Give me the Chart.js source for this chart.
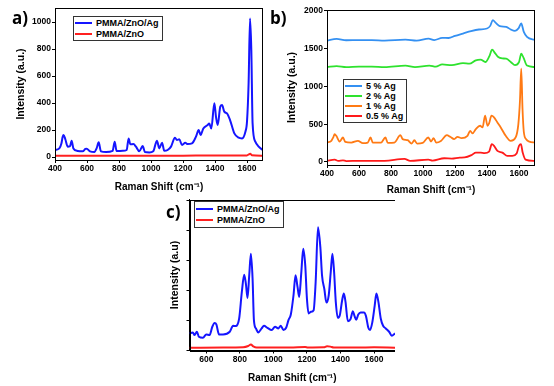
<!DOCTYPE html>
<html lang="en">
<head>
<meta charset="UTF-8">
<title>Raman spectra</title>
<script src="https://cdn.jsdelivr.net/npm/chart.js"></script>
<style>
    body { margin: 0; background: #fff; font-family: 'Liberation Sans', Arial, sans-serif; }
    #fig { position: relative; width: 554px; height: 386px; overflow: hidden; }
    canvas { position: absolute; }
    .tag { position: absolute; font-family: 'Open Sans', sans-serif; font-weight: bold; font-size: 17px; line-height: 17px; }
    .legend { position: absolute; border: 1px solid #333; background: #fff; font-weight: bold; font-size: 9px; padding: 1px 3px 1px 1px; }
    .legend div { display: flex; align-items: center; white-space: nowrap; }
    .legend .ln { display: inline-block; width: 17px; height: 2px; margin-right: 4px; }
</style>
</head>
<body>
<div id="fig">
    <canvas id="chartA" width="263" height="193" style="left:0;top:0"></canvas>
    <canvas id="chartB" width="265" height="196" style="left:270px;top:0"></canvas>
    <canvas id="chartC" width="245" height="189" style="left:150px;top:195px"></canvas>
    <div class="tag" style="left:12px;top:9px">a)</div>
    <div class="tag" style="left:270px;top:9px">b)</div>
    <div class="tag" style="left:166px;top:203px">c)</div>
    <div class="legend" id="legA" style="left:73px;top:16px"></div>
    <div class="legend" id="legB" style="left:343px;top:79px"></div>
    <div class="legend" id="legC" style="left:194px;top:201px"></div>
</div>
<script>
    // tick values
    const xTicksAB = [400, 600, 800, 1000, 1200, 1400, 1600];
    const xTicksC = [600, 800, 1000, 1200, 1400, 1600];
    const yTicksA = [0, 200, 400, 600, 800, 1000];
    const yTicksB = [0, 500, 1000, 1500, 2000];
    const yTicksC = [0, 1000, 2000, 3000, 4000, 5000];

    // a) PMMA/ZnO/Ag vs PMMA/ZnO
    const shiftA = [400, 427, 440, 448, 454, 465, 479, 494, 504, 515, 542, 573, 590, 598, 619, 646, 660, 673, 687, 719,
        760, 773, 785, 823, 848, 860, 871, 890, 906, 927, 948, 962, 990, 1014, 1037, 1052, 1069, 1083, 1104, 1125,
        1150, 1162, 1177, 1194, 1214, 1229, 1256, 1281, 1298, 1310, 1327, 1354, 1364, 1377, 1396, 1406, 1417, 1433,
        1444, 1458, 1475, 1494, 1521, 1548, 1569, 1590, 1600, 1610, 1619, 1627, 1635, 1652, 1673, 1700];
    const agA = [52, 64, 100, 150, 163, 130, 77, 80, 121, 64, 45, 42, 60, 62, 42, 37, 64, 109, 42, 37,
        45, 114, 45, 46, 52, 138, 94, 96, 77, 42, 81, 37, 34, 42, 121, 64, 106, 46, 52, 77,
        143, 126, 131, 89, 106, 96, 101, 151, 200, 163, 212, 237, 249, 212, 398, 300, 237, 373,
        385, 336, 323, 274, 175, 143, 138, 188, 262, 546, 1027, 793, 249, 114, 77, 50];
    const shiftA0 = [400, 600, 800, 1000, 1200, 1400, 1600, 1612, 1620, 1630, 1700];
    const znoA = [10, 9, 10, 9, 10, 12, 12, 20, 24, 14, 10];

    // b) Ag loading series
    const shift5 = [400, 460, 520, 600, 680, 760, 890, 960, 1035, 1070, 1120, 1160, 1200, 1250, 1300, 1350, 1400,
        1420, 1436, 1455, 1480, 1520, 1550, 1575, 1598, 1614, 1630, 1650, 1700];
    const ag5 = [1605, 1628, 1610, 1612, 1612, 1605, 1618, 1605, 1632, 1612, 1641, 1640, 1668, 1699, 1730, 1752, 1765,
        1800, 1876, 1840, 1796, 1787, 1750, 1734, 1770, 1832, 1720, 1654, 1610];
    const shift2 = [400, 460, 520, 600, 680, 760, 890, 950, 1040, 1080, 1120, 1180, 1250, 1290, 1330, 1360, 1390,
        1415, 1432, 1450, 1470, 1495, 1520, 1550, 1575, 1600, 1614, 1628, 1650, 1700];
    const ag2 = [1255, 1268, 1255, 1262, 1262, 1255, 1275, 1255, 1275, 1260, 1290, 1280, 1308, 1300, 1345, 1353, 1322,
        1400, 1486, 1440, 1388, 1370, 1366, 1320, 1280, 1320, 1432, 1380, 1275, 1255];
    const shift1 = [400, 427, 440, 448, 458, 479, 500, 514, 552, 593, 624, 655, 672, 686, 738, 765, 780, 821, 859, 873,
        904, 929, 946, 963, 998, 1033, 1050, 1066, 1083, 1112, 1149, 1170, 1195, 1216, 1241, 1278, 1295, 1309, 1330,
        1357, 1372, 1388, 1403, 1413, 1428, 1444, 1465, 1486, 1517, 1548, 1579, 1596, 1606, 1614, 1622, 1630, 1645,
        1665, 1700];
    const ag1 = [257, 279, 330, 368, 346, 271, 324, 266, 257, 279, 248, 257, 324, 257, 257, 324, 253, 257, 355, 302,
        288, 244, 288, 244, 253, 324, 271, 315, 257, 279, 355, 333, 302, 333, 315, 346, 412, 377, 435,
        479, 457, 612, 479, 510, 612, 590, 523, 457, 346, 279, 324, 501, 811, 1235, 700, 400, 300,
        270, 258];
    const shift05 = [400, 448, 470, 500, 520, 600, 680, 760, 884, 920, 1033, 1060, 1133, 1180, 1230, 1260, 1305, 1330,
        1360, 1385, 1413, 1430, 1444, 1465, 1496, 1527, 1558, 1585, 1600, 1612, 1623, 1641, 1700];
    const ag05 = [13, 31, 15, 22, 12, 15, 14, 15, 40, 15, 31, 18, 49, 45, 58, 60, 93, 124,
        124, 118, 137, 235, 213, 146, 124, 80, 80, 111, 213, 235, 124, 31, 13];

    // c) PMMA/ZnO/Ag vs PMMA/ZnO (arbitrary units)
    const shiftC = [500, 520, 530, 544, 556, 580, 600, 620, 636, 650, 660, 676, 700, 740, 760, 776, 796, 812, 826, 836,
        846, 856, 866, 876, 884, 896, 910, 930, 944, 964, 990, 1010, 1030, 1044, 1060, 1076, 1090, 1104, 1120, 1132,
        1144, 1154, 1166, 1178, 1190, 1200, 1210, 1224, 1240, 1252, 1266, 1280, 1290, 1304, 1316, 1330, 1342, 1352,
        1362, 1372, 1384, 1396, 1410, 1420, 1430, 1444, 1460, 1474, 1484, 1494, 1506, 1520, 1540, 1552, 1566, 1576,
        1590, 1604, 1614, 1626, 1640, 1654, 1670, 1690, 1706, 1725];
    const agC = [572, 605, 516, 627, 460, 427, 538, 516, 794, 916, 871, 538, 538, 627, 827, 816, 1071, 1959, 2536, 2237,
        1759, 2514, 3236, 2403, 1016, 738, 605, 738, 827, 760, 683, 794, 738, 827, 683, 760, 1016, 1204, 1848, 2514,
        2126, 1793, 2570, 3402, 2847, 1737, 1238, 1293, 1349, 2292, 4124, 3458, 2514, 2048, 1604, 1848, 2625, 3236,
        2625, 1626, 1093, 1182, 1682, 1904, 1626, 982, 1050, 1315, 1150, 1027, 1200, 1271, 1271, 1150, 760, 683,
        950, 1500, 1904, 1626, 1071, 827, 738, 627, 494, 572];
    const shiftC0 = [500, 700, 820, 850, 866, 880, 900, 1100, 1190, 1205, 1300, 1320, 1340, 1360, 1500, 1600, 1725];
    const znoC = [94, 100, 110, 150, 200, 140, 100, 100, 115, 100, 105, 145, 130, 100, 100, 105, 95];

    const pts = (xs, ys) => xs.map((x, i) => ({ x: x, y: ys[i] }));

    function line(label, xs, ys, color, width) {
        return {
            label: label,
            data: pts(xs, ys),
            borderColor: color,
            backgroundColor: color,
            borderWidth: width,
            pointRadius: 0,
            cubicInterpolationMode: 'monotone'
        };
    }

    // draws the closed box around the plot area
    const frame = {
        id: 'frame',
        afterDatasetsDraw(chart) {
            const { ctx, chartArea: a } = chart;
            ctx.save();
            ctx.strokeStyle = '#000';
            ctx.lineWidth = 1;
            ctx.strokeRect(Math.round(a.left) + 0.5, Math.round(a.top) + 0.5,
                Math.round(a.right - a.left) - 1, Math.round(a.bottom - a.top));
            ctx.restore();
        }
    };

    Chart.defaults.font.family = "'Liberation Sans', Arial, sans-serif";
    Chart.defaults.font.weight = 'bold';
    Chart.defaults.color = '#000';

    function makeChart(id, datasets, o) {
        return new Chart(document.getElementById(id), {
            type: 'line',
            data: { datasets: datasets },
            options: {
                responsive: false,
                animation: false,
                devicePixelRatio: 1,
                layout: { padding: { top: o.top, left: 0, right: 0, bottom: 0 } },
                plugins: { legend: { display: false }, tooltip: { enabled: false } },
                scales: {
                    x: {
                        type: 'linear', min: o.xMin, max: o.xMax,
                        ticks: { padding: 1, autoSkip: false, maxRotation: 0, font: { size: 8.5, weight: 'bold' },
                            callback: v => String(v) },
                        afterBuildTicks: s => { s.ticks = o.xTicks.map(v => ({ value: v })); },
                        afterFit: s => { s.height = o.xH; },
                        grid: { drawOnChartArea: false, tickLength: 3, color: '#000' },
                        border: { color: '#000' },
                        title: { display: true, text: 'Raman Shift (cm⁻¹)', font: { size: 10, weight: 'bold' }, padding: 0 }
                    },
                    y: {
                        min: o.yMin, max: o.yMax,
                        ticks: { padding: 1, autoSkip: false, display: o.yLabels, font: { size: 8.5, weight: 'bold' },
                            callback: v => String(v) },
                        afterBuildTicks: s => { s.ticks = o.yTicks.map(v => ({ value: v })); },
                        afterFit: s => { s.width = o.yW; },
                        grid: { drawOnChartArea: false, tickLength: 3, color: '#000' },
                        border: { color: '#000' },
                        title: { display: true, text: o.yTitle, font: { size: 10.5, weight: 'bold' }, padding: { top: o.yTitlePad, bottom: 0 } }
                    }
                }
            },
            plugins: [frame]
        });
    }

    const chartA = makeChart('chartA', [
        line('PMMA/ZnO/Ag', shiftA, agA, '#1515ff', 2),
        line('PMMA/ZnO', shiftA0, znoA, '#ff2020', 2)
    ], { top: 8, xMin: 400, xMax: 1700, xH: 33, xTicks: xTicksAB, yMin: -22, yMax: 1104, yTicks: yTicksA, yW: 55,
        yLabels: true, yTitle: 'Intensity (a.u.)', yTitlePad: 15 });

    const chartB = makeChart('chartB', [
        line('5 % Ag', shift5, ag5, '#3490f2', 1.8),
        line('2 % Ag', shift2, ag2, '#2ee22e', 1.8),
        line('1 % Ag', shift1, ag1, '#ff7a14', 1.8),
        line('0.5 % Ag', shift05, ag05, '#ff1a1a', 1.8)
    ], { top: 10, xMin: 400, xMax: 1700, xH: 31, xTicks: xTicksAB, yMin: -40, yMax: 2010, yTicks: yTicksB, yW: 57,
        yLabels: true, yTitle: 'Intensity (a.u.)', yTitlePad: 16 });

    const chartC = makeChart('chartC', [
        line('PMMA/ZnO/Ag', shiftC, agC, '#1515ff', 2),
        line('PMMA/ZnO', shiftC0, znoC, '#ff2020', 2)
    ], { top: 4.5, xMin: 500, xMax: 1725, xH: 33.5, xTicks: xTicksC, yMin: 0, yMax: 5050, yTicks: yTicksC, yW: 39.5,
        yLabels: false, yTitle: 'Intensity (a.u)', yTitlePad: 19 });

    // HTML legends built from the chart datasets
    function buildLegend(elId, chart, rowH) {
        const box = document.getElementById(elId);
        chart.data.datasets.forEach(ds => {
            const row = document.createElement('div');
            row.style.height = rowH + 'px';
            const sw = document.createElement('span');
            sw.className = 'ln';
            sw.style.background = ds.borderColor;
            row.appendChild(sw);
            row.appendChild(document.createTextNode(ds.label));
            box.appendChild(row);
        });
    }
    buildLegend('legA', chartA, 10.5);
    buildLegend('legB', chartB, 10);
    buildLegend('legC', chartC, 11.5);
</script>
</body>
</html>
